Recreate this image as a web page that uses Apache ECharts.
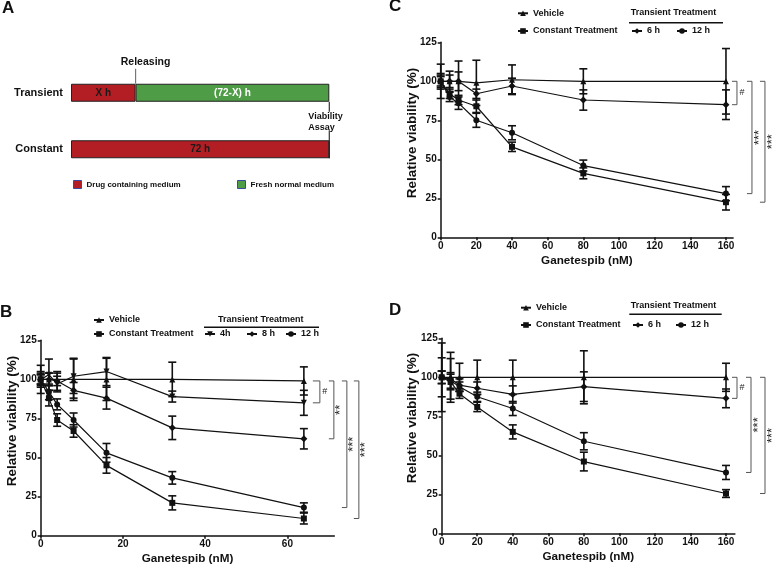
<!DOCTYPE html>
<html><head><meta charset="utf-8">
<script src="https://cdn.jsdelivr.net/npm/echarts@6/dist/echarts.min.js"></script>
<style>html,body{margin:0;padding:0;background:#fff}#c{width:774px;height:566px}</style>
</head><body><div id="c"></div>
<script>
// ================= DATA =================
// Panel A (schematic, hours)
const aCategories = ['Constant', 'Transient'];
const aDrugHours = [72, 18];
const aFreshHours = [0, 54];
const aDrugLabels = ['72 h', 'X h'];
const aFreshLabels = ['', '(72-X) h'];
const aSeriesNames = ['Drug containing medium', 'Fresh normal medium'];
const aTotalHours = 72;
const aReleaseHour = 18;

// Panel B
const bDoses = [0, 2, 4, 8, 16, 32, 64];
const bVehicle = [100, 100, 100, 100, 100, 100, 99];
const bVehicleErr = [3, 4, 4, 13.5, 13.5, 11, 9];
const bConstant = [100, 88, 74, 67, 45, 21, 11];
const bConstantErr = [9, 5, 4, 4, 5, 4.5, 3.5];
const b4h = [100, 103, 97, 102, 105, 89, 85];
const b4hErr = [4, 10, 5, 11, 9, 3.5, 8];
const b8h = [100, 100, 99, 93, 88, 69, 62];
const b8hErr = [3, 4, 6, 5, 7, 7.5, 6.5];
const b12h = [100, 92, 84, 74, 53, 37, 18];
const b12hErr = [5, 5, 3.5, 4.5, 6, 4, 3];
const bXTicks = [0, 20, 40, 60];
const bSig = ['#', '**', '***', '***'];

// Panel C
const cDoses = [0, 5, 10, 20, 40, 80, 160];
const cVehicle = [100, 100, 100, 99, 101, 100, 100];
const cVehicleErr = [5, 6.5, 13, 14.5, 9.5, 8, 21];
const cConstant = [100, 92, 88, 84, 58, 41, 22.5];
const cConstantErr = [11, 3, 3, 4, 3, 3.5, 5];
const c6h = [100, 100, 100, 92, 97, 88, 85];
const c6hErr = [4, 4, 6, 3, 5, 6.5, 9.5];
const c12h = [100, 90, 86, 75, 67, 46, 28];
const c12hErr = [3, 3, 4, 4.5, 4.5, 3.5, 4.5];
const cSig = ['#', '***', '***'];

// Panel D
const dDoses = [0, 5, 10, 20, 40, 80, 160];
const dVehicle = [100, 100, 100, 100, 100, 100, 100];
const dVehicleErr = [22, 16, 9, 11, 11, 17, 9];
const dConstant = [100, 97, 89.5, 81, 65, 46, 25.5];
const dConstantErr = [12.5, 5, 3, 3, 4.5, 6, 2.5];
const d6h = [100, 99, 95, 93, 89, 94, 86.5];
const d6hErr = [4, 13, 4, 4, 5.5, 9.5, 6];
const d12h = [100, 98, 94, 87.5, 80, 59, 39];
const d12hErr = [4, 5, 3, 3, 4.5, 5.5, 4.5];
const dSig = ['#', '***', '***'];

const cdXTicks = [0, 20, 40, 60, 80, 100, 120, 140, 160];
const yTicks = [0, 25, 50, 75, 100, 125];

// ================= STYLE / LAYOUT =================
const FONT = '"Liberation Sans", Arial, Helvetica, sans-serif';
const INK = '#111';
const RED = '#b21e24';
const GREEN = '#4f9c46';

const chart = echarts.init(document.getElementById('c'), null, {renderer: 'canvas'});

function lineSeries(name, gi, xs, ys, symbol, rotate) {
  return {
    type: 'line', name: name, xAxisIndex: gi, yAxisIndex: gi,
    data: xs.map((x, i) => [x, ys[i]]),
    symbol: symbol, symbolSize: symbol === 'diamond' ? 7 : 6, symbolRotate: rotate || 0,
    showSymbol: true, z: 4,
    lineStyle: {color: INK, width: 1.2}, itemStyle: {color: INK}
  };
}
function errSeries(gi, xs, ys, es) {
  return {
    type: 'custom', xAxisIndex: gi, yAxisIndex: gi, silent: true, clip: false, z: 3,
    data: xs.map((x, i) => [x, ys[i], es[i]]),
    encode: {x: 0, y: 1},
    renderItem: function (params, api) {
      const x = api.value(0), y = api.value(1), e = api.value(2);
      const t = api.coord([x, y + e]), b = api.coord([x, y - e]);
      const hw = 4, st = {stroke: INK, lineWidth: 1.6};
      return {type: 'group', children: [
        {type: 'line', shape: {x1: t[0], y1: t[1], x2: b[0], y2: b[1]}, style: st},
        {type: 'line', shape: {x1: t[0] - hw, y1: t[1], x2: t[0] + hw, y2: t[1]}, style: st},
        {type: 'line', shape: {x1: b[0] - hw, y1: b[1], x2: b[0] + hw, y2: b[1]}, style: st}
      ]};
    }
  };
}
function bracketSeries(gi, xRef, tops, bottoms, labels, starts, widths) {
  return {
    type: 'custom', xAxisIndex: gi, yAxisIndex: gi, silent: true, clip: false, z: 2,
    data: tops.map((t, i) => [xRef, t, bottoms[i], i]),
    encode: {x: 0, y: [1, 2]},
    renderItem: function (params, api) {
      const i = api.value(3);
      const pt = api.coord([api.value(0), api.value(1)]);
      const pb = api.coord([api.value(0), api.value(2)]);
      const x0 = pt[0] + starts[i], x1 = x0 + widths[i];
      const lbl = labels[i];
      const star = lbl.indexOf('*') >= 0;
      return {type: 'group', children: [
        {type: 'polyline', shape: {points: [[x0, pt[1]], [x1, pt[1]], [x1, pb[1]], [x0, pb[1]]]},
         style: {stroke: '#555', lineWidth: 1, fill: null}},
        {type: 'text', x: x1 + (star ? 7 : 5), y: (pt[1] + pb[1]) / 2, rotation: star ? Math.PI / 2 : 0,
         style: {text: lbl, fontSize: star ? 13 : 9, fill: '#222', align: 'center', verticalAlign: 'middle', fontFamily: FONT}}
      ]};
    }
  };
}
function xAxisDef(gi, max, ticks) {
  return {
    type: 'value', gridIndex: gi, min: 0, max: max,
    name: 'Ganetespib (nM)', nameLocation: 'middle', nameGap: 17,
    nameTextStyle: {fontSize: 11.7, fontWeight: 'bold', color: INK, fontFamily: FONT},
    axisLine: {show: true, onZero: false, lineStyle: {color: INK, width: 1.5}},
    axisTick: {show: true, length: 3, customValues: ticks, lineStyle: {color: INK, width: 1.5}},
    axisLabel: {customValues: ticks, fontSize: 10, fontWeight: 'bold', color: INK, margin: 4, fontFamily: FONT},
    splitLine: {show: false}
  };
}
function yAxisDef(gi) {
  return {
    type: 'value', gridIndex: gi, min: 0, max: 125, interval: 25,
    axisLine: {show: true, onZero: false, lineStyle: {color: INK, width: 1.5}},
    axisTick: {show: true, length: 3, customValues: yTicks, lineStyle: {color: INK, width: 1.5}},
    axisLabel: {customValues: yTicks, fontSize: 10, fontWeight: 'bold', color: INK, margin: 4, fontFamily: FONT},
    splitLine: {show: false}
  };
}
function yName(cx, cy) {
  return {type: 'text', x: cx, y: cy, rotation: Math.PI / 2,
    style: {text: 'Relative viability (%)', fontSize: 13.5, fontWeight: 'bold', fill: INK, align: 'center', verticalAlign: 'middle', fontFamily: FONT}};
}
function leg(name, left, top) {
  return {
    data: [name], left: left, top: top, padding: 0, itemWidth: 10, itemHeight: 7, itemGap: 0,
    selectedMode: false,
    textStyle: {fontSize: 9, fontWeight: 'bold', color: INK, fontFamily: FONT}
  };
}
function header(left, cy, lineX1, lineX2, lineY) {
  return [
    {type: 'text', left: left, top: cy - 5, style: {text: 'Transient Treatment', fontSize: 9, fontWeight: 'bold', fill: INK, fontFamily: FONT}},
    {type: 'line', shape: {x1: lineX1, y1: lineY, x2: lineX2, y2: lineY}, style: {stroke: INK, lineWidth: 1.5}}
  ];
}

// ---- series ----
const series = [];
// Panel A bars
series.push({
  type: 'bar', name: aSeriesNames[0], stack: 'a', xAxisIndex: 0, yAxisIndex: 0, barWidth: 18,
  data: aDrugHours, itemStyle: {color: RED, borderColor: '#222', borderWidth: 1},
  label: {show: true, position: 'inside', formatter: p => aDrugLabels[p.dataIndex], color: '#1a1a1a', fontSize: 10, fontWeight: 'bold', fontFamily: FONT}
});
series.push({
  type: 'bar', name: aSeriesNames[1], stack: 'a', xAxisIndex: 0, yAxisIndex: 0, barWidth: 18,
  data: aFreshHours, itemStyle: {color: GREEN, borderColor: '#222', borderWidth: 1},
  label: {show: true, position: 'inside', formatter: p => aFreshLabels[p.dataIndex], color: '#fff', fontSize: 10, fontWeight: 'bold', fontFamily: FONT}
});

// Panel B
const bSets = [
  ['Vehicle', bVehicle, bVehicleErr, 'triangle', 0],
  ['Constant Treatment', bConstant, bConstantErr, 'rect', 0],
  ['4h', b4h, b4hErr, 'triangle', 180],
  ['8 h', b8h, b8hErr, 'diamond', 0],
  ['12 h', b12h, b12hErr, 'circle', 0]
];
bSets.forEach(s => { series.push(errSeries(1, bDoses, s[1], s[2])); series.push(lineSeries(s[0], 1, bDoses, s[1], s[3], s[4])); });
const bLast = bDoses.length - 1;
series.push(bracketSeries(1, bDoses[bLast],
  [bVehicle[bLast], bVehicle[bLast], bVehicle[bLast], bVehicle[bLast]],
  [b4h[bLast], b8h[bLast], b12h[bLast], bConstant[bLast]], bSig, [9, 25, 38, 50], [7, 5, 5, 5]));

// Panel C
const cSets = [
  ['Vehicle', cVehicle, cVehicleErr, 'triangle', 0],
  ['Constant Treatment', cConstant, cConstantErr, 'rect', 0],
  ['6 h', c6h, c6hErr, 'diamond', 0],
  ['12 h', c12h, c12hErr, 'circle', 0]
];
cSets.forEach(s => { series.push(errSeries(2, cDoses, s[1], s[2])); series.push(lineSeries(s[0], 2, cDoses, s[1], s[3], s[4])); });
const cLast = cDoses.length - 1;
series.push(bracketSeries(2, cDoses[cLast],
  [cVehicle[cLast], cVehicle[cLast], cVehicle[cLast]],
  [c6h[cLast], c12h[cLast], cConstant[cLast]], cSig, [6, 21, 34], [5, 5, 5]));

// Panel D
const dSets = [
  ['Vehicle', dVehicle, dVehicleErr, 'triangle', 0],
  ['Constant Treatment', dConstant, dConstantErr, 'rect', 0],
  ['6 h', d6h, d6hErr, 'diamond', 0],
  ['12 h', d12h, d12hErr, 'circle', 0]
];
dSets.forEach(s => { series.push(errSeries(3, dDoses, s[1], s[2])); series.push(lineSeries(s[0], 3, dDoses, s[1], s[3], s[4])); });
const dLast = dDoses.length - 1;
series.push(bracketSeries(3, dDoses[dLast],
  [dVehicle[dLast], dVehicle[dLast], dVehicle[dLast]],
  [d6h[dLast], d12h[dLast], dConstant[dLast]], dSig, [6, 20, 34], [5, 5, 5]));

const titleStyle = {fontSize: 17, fontWeight: 'bold', color: INK, fontFamily: FONT};
const option = {
  animation: false,
  backgroundColor: '#fff',
  textStyle: {fontFamily: FONT},
  title: [
    {text: 'A', left: 2, top: 0, padding: 0, textStyle: titleStyle},
    {text: 'B', left: 0, top: 304, padding: 0, textStyle: titleStyle},
    {text: 'C', left: 389, top: -2, padding: 0, textStyle: titleStyle},
    {text: 'D', left: 389, top: 302, padding: 0, textStyle: titleStyle}
  ],
  grid: [
    {left: 71, top: 64.5, width: 258.3, height: 113},
    {left: 40.7, top: 340.3, width: 293.6, height: 195.4},
    {left: 440.7, top: 42.3, width: 292.4, height: 195},
    {left: 441.7, top: 338.3, width: 293.2, height: 195}
  ],
  xAxis: [
    {type: 'value', gridIndex: 0, min: 0, max: aTotalHours, show: false},
    xAxisDef(1, 71.4, bXTicks),
    xAxisDef(2, 164, cdXTicks),
    xAxisDef(3, 165, cdXTicks)
  ],
  yAxis: [
    {type: 'category', gridIndex: 0, data: aCategories,
     axisLine: {show: false}, axisTick: {show: false},
     axisLabel: {fontSize: 11, fontWeight: 'bold', color: INK, margin: 8, fontFamily: FONT}},
    yAxisDef(1), yAxisDef(2), yAxisDef(3)
  ],
  legend: [
    {data: [aSeriesNames[0]], left: 73, top: 180, padding: 0, itemWidth: 8, itemHeight: 8, icon: 'rect', selectedMode: false,
     itemStyle: {borderColor: '#3b4a9a', borderWidth: 1},
     textStyle: {fontSize: 8, fontWeight: 'bold', color: INK, fontFamily: FONT}},
    {data: [aSeriesNames[1]], left: 237, top: 180, padding: 0, itemWidth: 8, itemHeight: 8, icon: 'rect', selectedMode: false,
     itemStyle: {borderColor: '#3b4a9a', borderWidth: 1},
     textStyle: {fontSize: 8, fontWeight: 'bold', color: INK, fontFamily: FONT}},
    leg('Vehicle', 93, 315.5), leg('Constant Treatment', 93, 329.5),
    leg('4h', 204, 329.5), leg('8 h', 246, 329.5), leg('12 h', 285, 329.5),
    leg('Vehicle', 517, 8.8), leg('Constant Treatment', 517, 26.5),
    leg('6 h', 631, 26.5), leg('12 h', 676, 26.5),
    leg('Vehicle', 520, 303.2), leg('Constant Treatment', 520, 320.5),
    leg('6 h', 632, 320.5), leg('12 h', 675, 320.5)
  ],
  series: series
};
chart.setOption(option);

// ---- Panel A annotations positioned from the axes ----
const relX = chart.convertToPixel({xAxisIndex: 0}, aReleaseHour);
const endX = chart.convertToPixel({xAxisIndex: 0}, aTotalHours);
const tY = chart.convertToPixel({yAxisIndex: 0}, 'Transient');
const cY = chart.convertToPixel({yAxisIndex: 0}, 'Constant');
const half = 9;
const graphics = [
  {type: 'line', shape: {x1: relX, y1: tY - half - 15, x2: relX, y2: tY - half}, style: {stroke: '#777', lineWidth: 1.2}},
  {type: 'text', x: relX + 10, y: tY - half - 22, style: {text: 'Releasing', fontSize: 10.5, fontWeight: 'bold', fill: INK, align: 'center', verticalAlign: 'middle', fontFamily: FONT}},
  {type: 'line', shape: {x1: endX, y1: tY + half, x2: endX, y2: tY + half + 10}, style: {stroke: '#333', lineWidth: 1.2}},
  {type: 'line', shape: {x1: endX, y1: cY - half - 10, x2: endX, y2: cY - half}, style: {stroke: '#333', lineWidth: 1.2}},
  {type: 'text', x: endX - 21, y: (tY + cY) / 2 + 1, style: {text: 'Viability\nAssay', fontSize: 9, lineHeight: 11, fontWeight: 'bold', fill: INK, align: 'left', verticalAlign: 'middle', fontFamily: FONT}},
  yName(12.5, 421), yName(412.5, 133), yName(412.5, 418)
]
.concat(header(218, 320, 204, 319, 327.3))
.concat(header(630.7, 13.3, 629, 723, 22.7))
.concat(header(630.7, 306, 629.3, 721.7, 314.3));
chart.setOption({graphic: graphics});
</script>
</body></html>
